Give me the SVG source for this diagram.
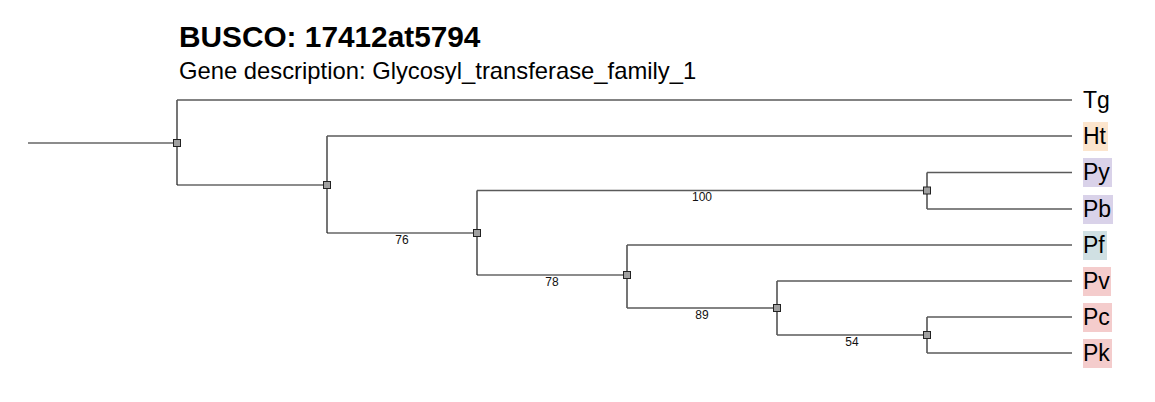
<svg xmlns="http://www.w3.org/2000/svg" width="1155" height="402" viewBox="0 0 1155 402">
<style>
.title{font-family:"Liberation Sans",Arial,sans-serif;font-weight:bold;font-size:29.8px;fill:#000}
.sub{font-family:"Liberation Sans",Arial,sans-serif;font-size:23.8px;fill:#000}
.leaf{font-family:"Liberation Sans",Arial,sans-serif;font-size:23px;fill:#000}
.bs{font-family:"Liberation Sans",Arial,sans-serif;font-size:12px;fill:#111;text-anchor:middle}
.h{stroke:#5a5a5a;stroke-width:1.5;fill:none}
.v{stroke:#1a1a1a;stroke-width:1.2;fill:none}
.nd{fill:#a0a0a0;stroke:#222;stroke-width:1}
</style>
<rect width="1155" height="402" fill="#fff"/>
<text class="title" x="179" y="47">BUSCO: 17412at5794</text>
<text class="sub" x="179" y="79">Gene description: Glycosyl_transferase_family_1</text>
<g id="connectors">
<line class="v" x1="28" y1="143" x2="177" y2="143"/>
<path class="v" d="M177 100V185"/>
<path class="h" d="M177 100H1072"/>
<path class="v" d="M177 185H327"/>
<path class="v" d="M327 136V233"/>
<path class="h" d="M327 136H1072"/>
<path class="v" d="M327 233H477"/>
<path class="v" d="M477 190.5V275"/>
<path class="h" d="M477 190.5H927"/>
<path class="v" d="M927 172.5V209"/>
<path class="h" d="M927 172.5H1072"/>
<path class="h" d="M927 209H1072"/>
<path class="v" d="M477 275H627"/>
<path class="v" d="M627 245V308"/>
<path class="h" d="M627 245H1072"/>
<path class="h" d="M627 308H777"/>
<path class="v" d="M777 281V335"/>
<path class="h" d="M777 281H1072"/>
<path class="h" d="M777 335H927"/>
<path class="v" d="M927 317V353"/>
<path class="h" d="M927 317H1072"/>
<path class="h" d="M927 353H1072"/>
<text class="bs" x="402" y="244">76</text>
<text class="bs" x="702" y="201">100</text>
<text class="bs" x="552" y="286">78</text>
<text class="bs" x="702" y="319">89</text>
<text class="bs" x="852" y="346">54</text>
</g>
<g id="n1"><rect class="nd" x="173.5" y="139.5" width="7" height="7"/></g>
<g id="n2"><rect class="nd" x="323.5" y="181.5" width="7" height="7"/></g>
<g id="n3"><rect class="nd" x="473.5" y="229.5" width="7" height="7"/></g>
<g id="n4"><rect class="nd" x="923.5" y="187" width="7" height="7"/></g>
<g id="n5"><rect class="nd" x="623.5" y="271.5" width="7" height="7"/></g>
<g id="n6"><rect class="nd" x="773.5" y="304.5" width="7" height="7"/></g>
<g id="n7"><rect class="nd" x="923.5" y="331.5" width="7" height="7"/></g>
<g id="Tg"><text class="leaf" x="1083" y="108">Tg</text></g>
<g id="Ht"><rect x="1083" y="122" width="25" height="29" fill="#fce5cd"/><text class="leaf" x="1083" y="144">Ht</text></g>
<g id="Py"><rect x="1083" y="158" width="29" height="29" fill="#d9d2e9"/><text class="leaf" x="1083" y="180">Py</text></g>
<g id="Pb"><rect x="1083" y="195" width="30" height="29" fill="#d9d2e9"/><text class="leaf" x="1083" y="217">Pb</text></g>
<g id="Pf"><rect x="1083" y="231" width="24" height="29" fill="#d0e0e3"/><text class="leaf" x="1083" y="253">Pf</text></g>
<g id="Pv"><rect x="1083" y="267" width="28" height="29" fill="#f4cccc"/><text class="leaf" x="1083" y="289">Pv</text></g>
<g id="Pc"><rect x="1083" y="303" width="29" height="29" fill="#f4cccc"/><text class="leaf" x="1083" y="325">Pc</text></g>
<g id="Pk"><rect x="1083" y="339" width="29" height="29" fill="#f4cccc"/><text class="leaf" x="1083" y="361">Pk</text></g>
</svg>
